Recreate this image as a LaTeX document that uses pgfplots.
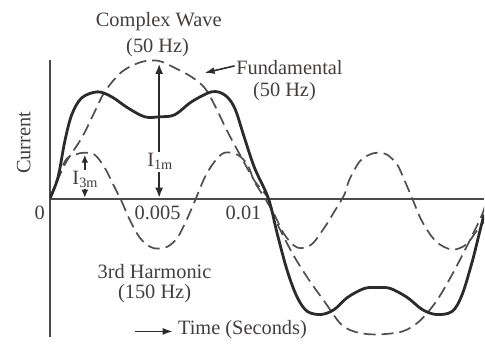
\documentclass[border=0pt]{standalone}
\usepackage{fontspec}
\setmainfont{Liberation Serif}
\usepackage{pgfplots}
\pgfplotsset{compat=1.18}
\usetikzlibrary{arrows.meta}

\definecolor{ink}{HTML}{2B2B2B}
\definecolor{dashgray}{HTML}{4F4F4F}
\definecolor{txt}{HTML}{453D3D}

\begin{document}
\fontsize{10.2}{12}\selectfont
\begin{tikzpicture}
\begin{axis}[
    scale only axis,
    width=217.5pt, height=139pt,
    xmin=0, xmax=0.019863,
    ymin=-139, ymax=139,
    axis lines=middle,
    axis line style={-, line width=0.9pt, color=ink!85},
    xtick=\empty, ytick=\empty,
    clip mode=individual,
    every axis plot/.append style={smooth, tension=0.55},
]
% 3rd harmonic (150 Hz)
\addplot[dashgray, line width=0.85pt, dash pattern=on 6pt off 3pt] coordinates {
 (0,0) (0.00068,37) (0.00114,44) (0.00160,46) (0.00205,44) (0.00251,31)
 (0.00297,11) (0.00329,-3) (0.00365,-21) (0.00411,-39) (0.00457,-48)
 (0.00493,-50) (0.00539,-48) (0.00584,-39) (0.00626,-21) (0.00662,-3)
 (0.00708,21) (0.00753,37) (0.00799,46) (0.00858,44) (0.00904,34)
 (0.00936,17) (0.00982,1) (0.01027,-16) (0.01073,-36) (0.01132,-49)
 (0.01196,-46) (0.01256,-29) (0.01301,-13) (0.01347,4) (0.01370,19)
 (0.01416,37) (0.01461,44) (0.01498,46) (0.01543,44) (0.01589,34)
 (0.01621,19) (0.01658,0) (0.01703,-23) (0.01767,-43) (0.01840,-51)
 (0.01904,-46) (0.01950,-33) (0.01986,-23)
};
% fundamental (50 Hz)
\addplot[dashgray, line width=0.85pt, dash pattern=on 6pt off 3pt] coordinates {
 (0,0) (0.00068,34) (0.00146,61) (0.00205,87) (0.00251,107) (0.00329,127)
 (0.00420,137) (0.00498,138) (0.00571,131) (0.00648,122) (0.00708,111)
 (0.00753,94) (0.00813,67) (0.00877,41) (0.00936,18) (0.01000,0)
 (0.01027,-19) (0.01105,-53) (0.01178,-79) (0.01256,-103) (0.01333,-126)
 (0.01406,-134) (0.01498,-136) (0.01612,-133) (0.01689,-123) (0.01767,-103)
 (0.01840,-76) (0.01918,-43) (0.01977,-16) (0.02000,0)
};
% complex wave
\addplot[ink, line width=1.4pt] coordinates {
 (0,0) (0.00037,21) (0.00068,57) (0.00100,84) (0.00146,101) (0.00219,107)
 (0.00283,102) (0.00356,91) (0.00434,82) (0.00502,82) (0.00571,84)
 (0.00648,97) (0.00740,107) (0.00799,104) (0.00845,91) (0.00890,61)
 (0.00936,31) (0.01000,0) (0.01041,-36) (0.01087,-73) (0.01132,-99)
 (0.01178,-113) (0.01242,-116) (0.01301,-111) (0.01361,-99) (0.01438,-90)
 (0.01498,-89) (0.01558,-90) (0.01635,-99) (0.01703,-111) (0.01767,-116)
 (0.01840,-113) (0.01886,-96) (0.01932,-63) (0.01963,-36) (0.01986,-16)
};

% page extent
\path (axis cs:-0.00228,199) (axis cs:0.019863,-139);

% amplitude arrows
\draw[ink, line width=0.8pt, {Latex[length=5pt,width=4pt]}-{Latex[length=5pt,width=4pt]}]
  (axis cs:0.005,1) -- (axis cs:0.005,135);
\node[txt, fill=white, inner sep=1pt] at (axis cs:0.00505,37) {I$_{\mathrm{1m}}$};
\draw[ink, line width=0.8pt, {Latex[length=4pt,width=3.5pt]}-{Latex[length=4pt,width=3.5pt]}]
  (axis cs:0.0016,1) -- (axis cs:0.0016,44);
\node[txt, fill=white, inner sep=0.5pt] at (axis cs:0.00163,19) {I$_{\mathrm{3m}}$};

% texts
\node[txt] at (axis cs:0.00498,177) {Complex Wave};
\node[txt] at (axis cs:0.00493,151) {(50 Hz)};
\node[txt] at (axis cs:0.01096,131) {Fundamental};
\node[txt] at (axis cs:0.01073,107) {(50 Hz)};
\draw[ink, line width=0.8pt, -{Latex[length=5pt,width=3.5pt]}]
  (axis cs:0.00845,133) -- (axis cs:0.00708,126);
\node[txt, rotate=90] at (axis cs:-0.00119,56) {Current};
\node[txt] at (axis cs:-0.00046,-14) {0};
\node[txt] at (axis cs:0.00493,-14) {0.005};
\node[txt] at (axis cs:0.00886,-14) {0.01};
\node[txt] at (axis cs:0.00479,-73) {3rd Harmonic};
\node[txt] at (axis cs:0.00479,-95) {(150 Hz)};
\node[txt] at (axis cs:0.00881,-131) {Time (Seconds)};
\draw[ink, line width=0.8pt, -{Latex[length=5pt,width=3.5pt]}]
  (axis cs:0.00388,-133) -- (axis cs:0.00562,-133);
\end{axis}
\end{tikzpicture}
\end{document}
